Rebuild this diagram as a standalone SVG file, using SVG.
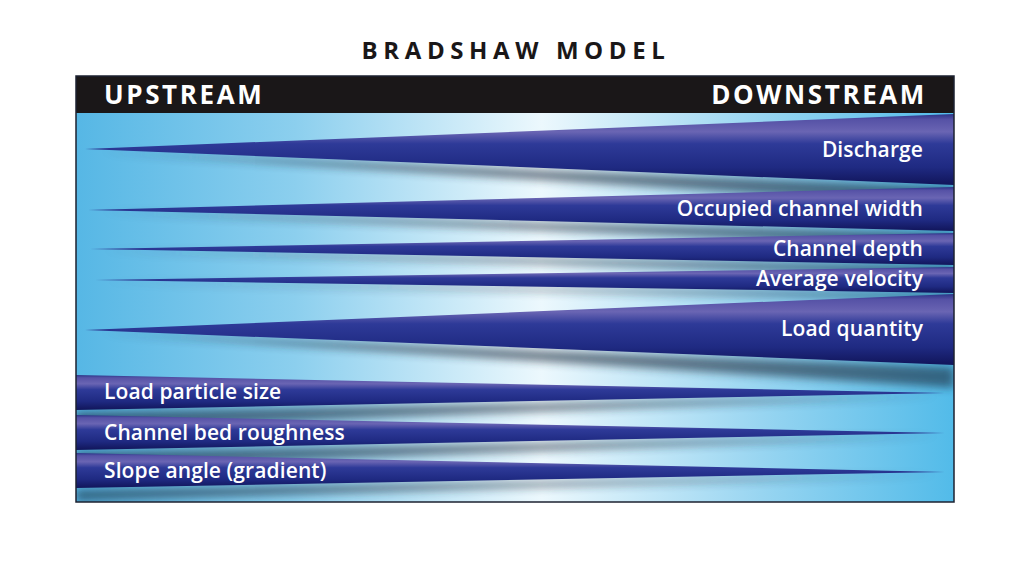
<svg xmlns="http://www.w3.org/2000/svg" width="1030" height="578" viewBox="0 0 1030 578">
<style>
.title{font-family:"Open Sans","Liberation Sans",sans-serif;font-weight:700;font-size:24px;letter-spacing:5.6px;fill:#1a1718}
.hdr{font-family:"Open Sans","Liberation Sans",sans-serif;font-weight:700;font-size:26px;letter-spacing:2.6px;fill:#ffffff}
.lbl{font-family:"Open Sans","Liberation Sans",sans-serif;font-weight:600;font-size:21px;letter-spacing:0.1px;fill:#ffffff}
.wedge{fill:url(#wg)}
.shadow{fill:#1b2b3e;opacity:0.6;filter:url(#blur)}
</style>
<defs>
<linearGradient id="bg" x1="0" y1="0" x2="1" y2="0">
<stop offset="0" stop-color="#56b7e5"/>
<stop offset="0.25" stop-color="#8ccfee"/>
<stop offset="0.53" stop-color="#ecf8fd"/>
<stop offset="0.78" stop-color="#98d5f1"/>
<stop offset="1" stop-color="#52bbe9"/>
</linearGradient>
<linearGradient id="wg" x1="0" y1="0" x2="0" y2="1">
<stop offset="0" stop-color="#2c3488"/>
<stop offset="0.08" stop-color="#5652a6"/>
<stop offset="0.25" stop-color="#6a65b3"/>
<stop offset="0.42" stop-color="#2e3a98"/>
<stop offset="0.75" stop-color="#1f2a82"/>
<stop offset="1" stop-color="#11155a"/>
</linearGradient>
<filter id="blur" x="-5%" y="-100%" width="110%" height="300%">
<feGaussianBlur stdDeviation="4"/>
</filter>
<clipPath id="panel"><rect x="76" y="113" width="878" height="389"/></clipPath>
</defs>
<rect width="1030" height="578" fill="#ffffff"/>
<g id="title"><text class="title" x="516" y="59" text-anchor="middle">BRADSHAW MODEL</text></g>
<g id="header">
<rect x="76" y="76" width="878" height="37" fill="#1a1718"/>
<text class="hdr" x="104" y="104">UPSTREAM</text>
<text class="hdr" x="927" y="104" text-anchor="end">DOWNSTREAM</text>
</g>
<g id="panel-bg">
<rect x="76" y="113" width="878" height="389" fill="url(#bg)"/>
</g>
<g id="shadows" clip-path="url(#panel)">
<polygon class="shadow" points="100,152 954,187 954,206"/>
<polygon class="shadow" points="100,212 954,233 954,247"/>
<polygon class="shadow" points="100,251 954,266 954,276"/>
<polygon class="shadow" points="100,282 954,294 954,300"/>
<polygon class="shadow" points="100,333 954,367 954,388"/>
<polygon class="shadow" points="76,412 76,429 940,396"/>
<polygon class="shadow" points="76,452 76,468 940,436"/>
<polygon class="shadow" points="76,490 76,501 940,475"/>
</g>
<g id="discharge">
<polygon class="wedge" points="85,149 954,114 954,185"/>
<text class="lbl" x="923" y="157" text-anchor="end">Discharge</text>
</g>
<g id="occupied-channel-width">
<polygon class="wedge" points="88,210 954,187 954,231"/>
<text class="lbl" x="923" y="216" text-anchor="end">Occupied channel width</text>
</g>
<g id="channel-depth">
<polygon class="wedge" points="90,249 954,233 954,265"/>
<text class="lbl" x="923" y="256" text-anchor="end">Channel depth</text>
</g>
<g id="average-velocity">
<polygon class="wedge" points="95,280 954,267 954,293"/>
<text class="lbl" x="923" y="286" text-anchor="end">Average velocity</text>
</g>
<g id="load-quantity">
<polygon class="wedge" points="85,330 954,294 954,365"/>
<text class="lbl" x="923" y="336" text-anchor="end">Load quantity</text>
</g>
<g id="load-particle-size">
<polygon class="wedge" points="76,375 945,393 76,410"/>
<text class="lbl" x="104" y="399">Load particle size</text>
</g>
<g id="channel-bed-roughness">
<polygon class="wedge" points="76,415 945,433 76,450"/>
<text class="lbl" x="104" y="440">Channel bed roughness</text>
</g>
<g id="slope-angle">
<polygon class="wedge" points="76,453 945,472 76,488"/>
<text class="lbl" x="104" y="478">Slope angle (gradient)</text>
</g>
<g id="frame">
<rect x="76" y="76" width="878" height="426" fill="none" stroke="#1c2230" stroke-width="1.5"/>
</g>
</svg>
